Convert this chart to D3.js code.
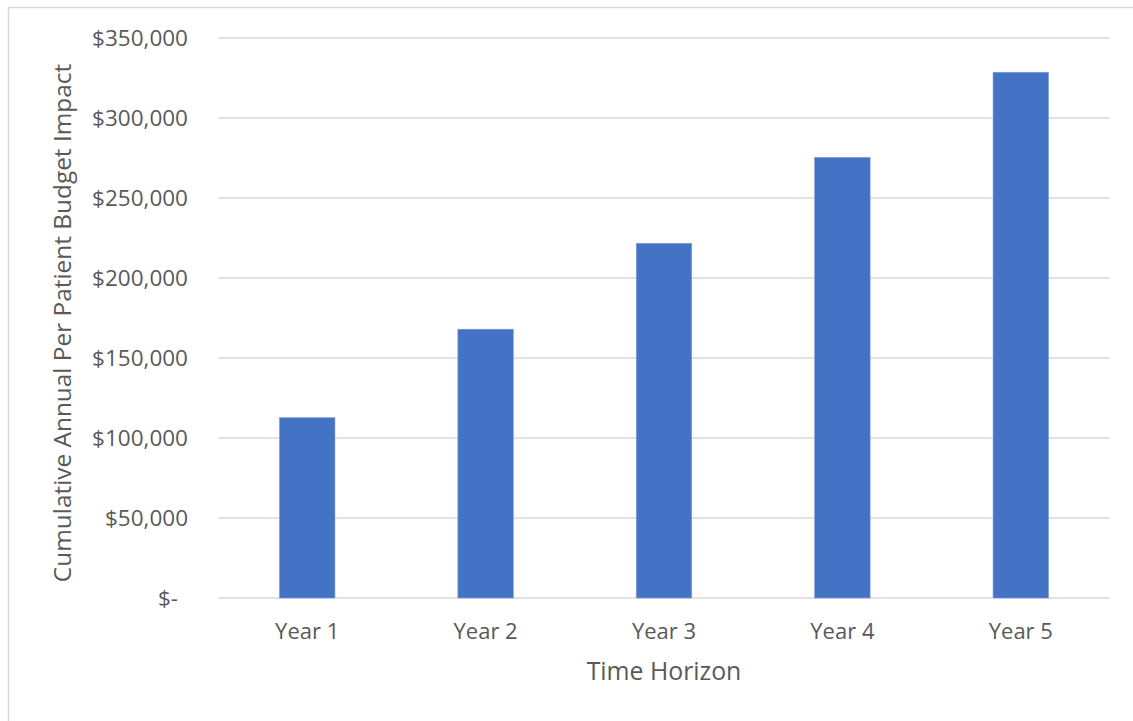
<!DOCTYPE html>
<html>
<head>
<meta charset="utf-8">
<script src="https://cdn.jsdelivr.net/npm/d3@7"></script>
<style>
  html, body { margin: 0; padding: 0; background: #fff; }
  svg { display: block; }
  text { font-family: "Open Sans", "Noto Sans", sans-serif; fill: #595959; }
</style>
</head>
<body>
<svg id="chart" width="1133" height="721"></svg>
<script>
const categories = ["Year 1", "Year 2", "Year 3", "Year 4", "Year 5"];
const values = [112700, 168000, 221700, 275400, 328600];
const yTicks = [0, 50000, 100000, 150000, 200000, 250000, 300000, 350000];
const xTitle = "Time Horizon";
const yTitle = "Cumulative Annual Per Patient Budget Impact";

const svg = d3.select("#chart");
const W = 1133, H = 721;
const plot = { left: 218, right: 1110, top: 38, bottom: 598 };

// outer frame (chart area border, cropped on right/bottom)
svg.append("rect")
  .attr("x", 8.5).attr("y", 7.5)
  .attr("width", W).attr("height", H)
  .attr("fill", "none").attr("stroke", "#d9d9d9").attr("stroke-width", 1.5);

const x = d3.scaleBand()
  .domain(categories)
  .range([plot.left, plot.right])
  .paddingInner(0.689)
  .paddingOuter(0.3445);

const y = d3.scaleLinear()
  .domain([0, 350000])
  .range([plot.bottom, plot.top]);

const fmt = d => d === 0 ? "$-" : "$" + d3.format(",")(d);

// gridlines
svg.append("g")
  .selectAll("line")
  .data(yTicks)
  .join("line")
  .attr("x1", plot.left).attr("x2", plot.right)
  .attr("y1", d => y(d)).attr("y2", d => y(d))
  .attr("stroke", "#d9d9d9").attr("stroke-width", 1.5);

// y axis labels
const yAxis = svg.append("g")
  .attr("transform", `translate(${plot.left - 30},0)`)
  .call(d3.axisLeft(y).tickValues(yTicks).tickFormat(fmt).tickSize(0).tickPadding(0));
yAxis.select(".domain").remove();
yAxis.selectAll("text")
  .style("font-size", "22.5px")
  .attr("dx", d => d === 0 ? -10 : 0);

// bars
svg.append("g")
  .selectAll("rect")
  .data(values)
  .join("rect")
  .attr("x", (d, i) => x(categories[i]))
  .attr("width", x.bandwidth())
  .attr("y", d => y(d))
  .attr("height", d => y(0) - y(d))
  .attr("fill", "#4472C4")
  .attr("stroke", "#7f9fd9")
  .attr("stroke-width", 0.6);

// x axis labels
const xAxis = svg.append("g")
  .attr("transform", `translate(0,${plot.bottom})`)
  .call(d3.axisBottom(x).tickSize(0).tickPadding(0));
xAxis.select(".domain").remove();
xAxis.selectAll("text")
  .style("font-size", "22px")
  .attr("dy", null)
  .attr("y", 41);

// axis titles
svg.append("text")
  .attr("x", (plot.left + plot.right) / 2)
  .attr("y", 680)
  .attr("text-anchor", "middle")
  .style("font-size", "24.8px")
  .text(xTitle);

svg.append("text")
  .attr("transform", "rotate(-90)")
  .attr("x", -323)
  .attr("y", 71)
  .attr("text-anchor", "middle")
  .style("font-size", "24.4px")
  .text(yTitle);
</script>
</body>
</html>
